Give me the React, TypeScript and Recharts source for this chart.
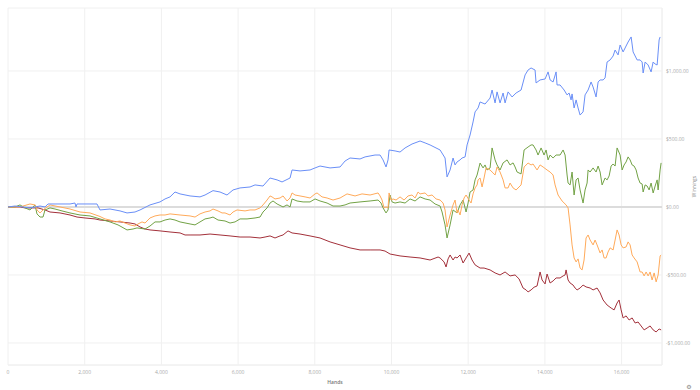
import React from "react";
import { LineChart, Line, XAxis, YAxis, CartesianGrid, ReferenceLine } from "recharts";

type P = [number, number];

const blueSeries: P[] = [[0,0],[183,7],[574,-7],[835,7],[965,0],[1043,22],[1226,22],[1487,22],[1617,22],[1747,29],[1773,0],[1800,22],[2008,22],[2321,22],[2399,-22],[2660,-15],[2921,-29],[3104,-44],[3312,-37],[3443,-22],[3703,15],[3964,37],[4095,59],[4225,74],[4355,110],[4486,96],[4747,81],[5007,74],[5138,88],[5346,120],[5529,110],[5711,88],[5868,125],[6051,140],[6311,147],[6442,162],[6650,154],[6833,213],[7016,199],[7146,184],[7355,213],[7407,272],[7615,265],[7876,272],[8007,287],[8137,301],[8398,287],[8659,294],[8789,338],[8919,360],[9180,353],[9311,368],[9571,382],[9702,382],[9780,346],[9858,294],[9910,346],[9937,419],[10093,412],[10223,404],[10354,434],[10536,463],[10745,485],[10876,471],[11006,456],[11267,419],[11397,360],[11449,221],[11528,272],[11606,360],[11658,309],[11710,331],[11788,346],[11840,360],[11919,368],[11971,456],[12049,529],[12127,625],[12180,699],[12258,728],[12310,772],[12440,757],[12571,801],[12623,860],[12701,765],[12753,846],[12831,765],[12910,838],[12962,765],[13040,846],[13144,809],[13249,838],[13379,860],[13484,971],[13562,1007],[13640,1022],[13744,1007],[13770,912],[13875,934],[14005,941],[14083,993],[14136,934],[14214,919],[14292,993],[14318,897],[14396,897],[14501,860],[14579,824],[14631,838],[14683,787],[14709,831],[14762,728],[14814,787],[14866,728],[14918,676],[14996,699],[15048,824],[15127,860],[15205,919],[15257,882],[15335,809],[15388,919],[15440,934],[15518,934],[15570,949],[15622,1066],[15701,1081],[15779,1110],[15831,1154],[15909,1118],[15962,1191],[16040,1140],[16092,1169],[16170,1213],[16249,1250],[16301,1140],[16405,1081],[16483,1081],[16536,1066],[16562,985],[16614,1066],[16692,1044],[16770,993],[16823,1066],[16875,1051],[16927,1044],[16979,1228],[17005,1250]];

const orangeSeries: P[] = [[0,0],[313,0],[574,22],[704,15],[756,-22],[835,-44],[913,-22],[1095,15],[1356,0],[1617,-15],[1878,-37],[2139,-44],[2399,-70],[2530,-88],[2660,-96],[2791,-110],[2921,-103],[3051,-118],[3182,-132],[3312,-140],[3390,-125],[3495,-110],[3573,-118],[3703,-81],[3834,-66],[3964,-59],[4095,-59],[4225,-51],[4486,-59],[4747,-66],[4877,-74],[5007,-51],[5138,-37],[5268,-29],[5346,-15],[5477,-29],[5581,-44],[5659,-44],[5790,-59],[5868,-37],[5972,-22],[6181,-29],[6311,-22],[6442,-22],[6572,-7],[6650,15],[6755,51],[6833,81],[6885,74],[6963,59],[7094,66],[7172,81],[7276,44],[7355,66],[7407,103],[7485,88],[7615,81],[7746,74],[7876,66],[8007,96],[8059,103],[8189,74],[8320,66],[8476,51],[8659,66],[8841,96],[9050,81],[9232,96],[9441,88],[9650,103],[9702,81],[9754,51],[9806,-7],[9858,0],[9910,-7],[9937,103],[9989,51],[10041,59],[10119,51],[10223,74],[10328,51],[10432,81],[10536,88],[10615,66],[10693,110],[10745,96],[10876,103],[10954,81],[11058,88],[11163,59],[11267,51],[11345,29],[11397,-22],[11449,-147],[11528,-59],[11606,15],[11658,51],[11710,-44],[11736,-22],[11788,-59],[11840,15],[11893,66],[11945,88],[12023,51],[12075,29],[12127,96],[12180,140],[12232,162],[12258,199],[12310,213],[12362,147],[12414,213],[12466,287],[12571,272],[12623,257],[12701,235],[12753,294],[12831,257],[12910,199],[12962,140],[13040,140],[13092,176],[13171,140],[13249,125],[13379,162],[13458,294],[13562,323],[13640,309],[13692,316],[13796,272],[13875,309],[13953,294],[14057,272],[14136,257],[14214,235],[14266,162],[14344,88],[14448,44],[14553,15],[14605,-7],[14657,-132],[14709,-279],[14762,-375],[14814,-404],[14866,-382],[14918,-449],[14970,-463],[15022,-390],[15074,-228],[15127,-206],[15179,-243],[15257,-279],[15309,-243],[15361,-279],[15440,-338],[15492,-316],[15544,-375],[15596,-375],[15648,-331],[15701,-301],[15779,-316],[15831,-243],[15883,-169],[15935,-206],[15988,-279],[16040,-301],[16118,-294],[16170,-257],[16222,-279],[16275,-353],[16327,-375],[16405,-404],[16483,-478],[16536,-478],[16588,-507],[16640,-478],[16692,-507],[16744,-478],[16796,-537],[16849,-485],[16901,-551],[16953,-500],[17005,-360],[17031,-353]];

const greenSeries: P[] = [[0,0],[183,0],[313,15],[443,-7],[574,-22],[704,15],[756,-51],[835,-74],[913,-74],[965,-22],[1095,-7],[1226,-15],[1408,-29],[1617,-44],[1878,-59],[2139,-66],[2399,-88],[2660,-110],[2869,-132],[2921,-140],[3104,-169],[3260,-162],[3364,-154],[3573,-162],[3703,-140],[3834,-110],[3964,-110],[4095,-96],[4225,-88],[4355,-96],[4486,-110],[4747,-125],[4877,-132],[5007,-110],[5138,-88],[5268,-81],[5346,-74],[5477,-96],[5659,-103],[5790,-118],[5920,-110],[6051,-88],[6233,-88],[6442,-81],[6572,-74],[6650,-37],[6755,-7],[6833,29],[6911,44],[7016,22],[7172,0],[7276,15],[7355,0],[7407,59],[7537,44],[7694,37],[7876,37],[8007,59],[8137,44],[8320,29],[8476,7],[8659,7],[8789,15],[8919,29],[9180,37],[9441,44],[9650,51],[9728,29],[9780,-7],[9858,-44],[9910,-22],[9963,88],[10015,37],[10093,29],[10223,37],[10354,29],[10484,59],[10615,44],[10745,74],[10876,59],[11006,51],[11136,22],[11267,7],[11319,-37],[11397,-132],[11449,-228],[11528,-132],[11606,-22],[11710,-44],[11788,15],[11867,51],[11945,-37],[11997,29],[12049,110],[12127,125],[12180,199],[12232,235],[12310,323],[12388,287],[12440,309],[12492,272],[12571,287],[12623,434],[12701,346],[12753,309],[12831,272],[12910,324],[13014,346],[13092,309],[13171,324],[13223,294],[13275,257],[13379,243],[13458,419],[13562,441],[13640,456],[13692,456],[13770,419],[13822,382],[13901,434],[13979,382],[14031,419],[14083,346],[14136,382],[14214,360],[14292,382],[14396,382],[14475,419],[14527,382],[14579,235],[14605,176],[14657,162],[14709,257],[14762,88],[14814,199],[14866,213],[14918,125],[14996,29],[15048,125],[15101,176],[15127,272],[15179,257],[15257,287],[15335,257],[15388,301],[15440,257],[15492,162],[15570,213],[15622,199],[15675,228],[15727,301],[15779,316],[15831,301],[15883,434],[15962,382],[16014,272],[16066,309],[16118,331],[16170,368],[16222,346],[16275,309],[16327,301],[16379,272],[16431,213],[16483,176],[16536,169],[16562,110],[16614,162],[16666,154],[16718,125],[16770,176],[16823,103],[16875,154],[16927,199],[16953,125],[17005,272],[17031,324]];

const redSeries: P[] = [[0,0],[313,0],[443,-7],[782,-7],[965,-22],[1095,-37],[1356,-44],[1617,-59],[1800,-74],[2008,-81],[2269,-88],[2399,-96],[2660,-103],[2921,-110],[3182,-118],[3312,-125],[3443,-147],[3573,-162],[3703,-169],[3964,-176],[4225,-184],[4486,-191],[4616,-206],[4747,-206],[5007,-206],[5268,-199],[5529,-206],[5790,-213],[6051,-221],[6311,-221],[6572,-228],[6703,-221],[6833,-213],[6963,-228],[7094,-213],[7172,-206],[7302,-176],[7407,-191],[7615,-199],[7876,-213],[8137,-228],[8398,-257],[8659,-279],[8919,-301],[9180,-316],[9441,-316],[9702,-316],[9832,-324],[9963,-346],[10223,-360],[10484,-368],[10745,-375],[11006,-390],[11215,-368],[11267,-375],[11371,-404],[11423,-441],[11476,-382],[11528,-353],[11606,-390],[11658,-368],[11710,-375],[11788,-353],[11867,-412],[11945,-375],[12023,-339],[12101,-390],[12180,-426],[12310,-449],[12414,-449],[12571,-463],[12701,-485],[12831,-500],[12962,-478],[13092,-507],[13223,-500],[13327,-529],[13431,-596],[13510,-610],[13562,-625],[13640,-610],[13718,-590],[13796,-581],[13875,-478],[13927,-537],[14005,-566],[14057,-493],[14136,-559],[14214,-544],[14292,-522],[14396,-522],[14475,-507],[14527,-500],[14553,-463],[14605,-537],[14657,-559],[14735,-574],[14788,-596],[14840,-610],[14918,-596],[14996,-574],[15074,-588],[15179,-596],[15257,-610],[15361,-596],[15440,-632],[15518,-684],[15622,-721],[15727,-743],[15805,-757],[15883,-706],[15935,-684],[15988,-757],[16040,-816],[16118,-801],[16196,-831],[16275,-816],[16353,-853],[16431,-846],[16509,-875],[16588,-904],[16666,-890],[16744,-875],[16823,-904],[16901,-919],[16979,-897],[17031,-904]];

const xTicks = [0, 2000, 4000, 6000, 8000, 10000, 12000, 14000, 16000];
const yTicks = [-1000, -500, 0, 500, 1000];
const xMax = 17054;
const yMin = -1162;
const yMax = 1463;

const toRows = (s: P[]) => s.map(([h, v]) => ({ hands: h, value: v }));

const fmtX = (v: number) => v.toLocaleString("en-US");
const fmtY = (v: number) => {
  const s = "$" + Math.abs(v).toLocaleString("en-US", { minimumFractionDigits: 2, maximumFractionDigits: 2 });
  return v < 0 ? "-" + s : s;
};

const FONT = "'Open Sans', 'DejaVu Sans', sans-serif";

export default function App() {
  return (
    <div style={{ position: "absolute", left: 0, top: 0, width: 700, height: 390, background: "#fff", overflow: "hidden" }}>
      <LineChart width={700} height={390} margin={{ top: 8, right: 0, left: 8, bottom: 0 }}>
        <CartesianGrid stroke="#f0f0f0" strokeWidth={1} />
        <XAxis
          type="number"
          dataKey="hands"
          domain={[0, xMax]}
          ticks={xTicks}
          tickFormatter={fmtX}
          axisLine={false}
          tickLine={false}
          tickSize={0}
          tickMargin={5}
          height={25}
          tick={{ fontSize: 5, fill: "#aaa", fontFamily: FONT }}
          allowDataOverflow
          label={{
            content: (p: any) => {
              const vb = p.viewBox || {};
              return (
                <g>
                  <text x={vb.x + vb.width / 2} y={vb.y + 17} textAnchor="middle" dominantBaseline="central" fontSize={5} fontWeight={600} fill="#777" fontFamily={FONT}>
                    Hands
                  </text>
                  <text x={vb.x + vb.width + 27} y={vb.y + 21} textAnchor="middle" dominantBaseline="central" fontSize={6} fill="#888" fontFamily="'DejaVu Sans', sans-serif">
                    ⚙
                  </text>
                </g>
              );
            },
          }}
        />
        <YAxis
          type="number"
          orientation="right"
          domain={[yMin, yMax]}
          ticks={yTicks}
          tickFormatter={fmtY}
          axisLine={false}
          tickLine={false}
          tickSize={0}
          tickMargin={4}
          width={38}
          tick={{ fontSize: 5, fill: "#aaa", fontFamily: FONT }}
          allowDataOverflow
          label={{
            content: (p: any) => {
              const vb = p.viewBox || {};
              const cx = vb.x + 32;
              const cy = vb.y + vb.height / 2;
              return (
                <text x={cx} y={cy} textAnchor="middle" dominantBaseline="central" fontSize={5} fill="#888" fontFamily={FONT} transform={`rotate(-90 ${cx} ${cy})`}>
                  Winnings
                </text>
              );
            },
          }}
        />
        <ReferenceLine x={xMax} stroke="#f0f0f0" />
        <ReferenceLine y={yMin} stroke="#f0f0f0" />
        <ReferenceLine y={0} stroke="#dcdcdc" strokeWidth={2} />
        <Line data={toRows(redSeries)} dataKey="value" type="linear" stroke="#a3303a" strokeWidth={1} dot={false} isAnimationActive={false} />
        <Line data={toRows(greenSeries)} dataKey="value" type="linear" stroke="#72a245" strokeWidth={1} dot={false} isAnimationActive={false} />
        <Line data={toRows(orangeSeries)} dataKey="value" type="linear" stroke="#ffaa5a" strokeWidth={1} dot={false} isAnimationActive={false} />
        <Line data={toRows(blueSeries)} dataKey="value" type="linear" stroke="#6a8ff7" strokeWidth={1} dot={false} isAnimationActive={false} />
      </LineChart>
    </div>
  );
}
